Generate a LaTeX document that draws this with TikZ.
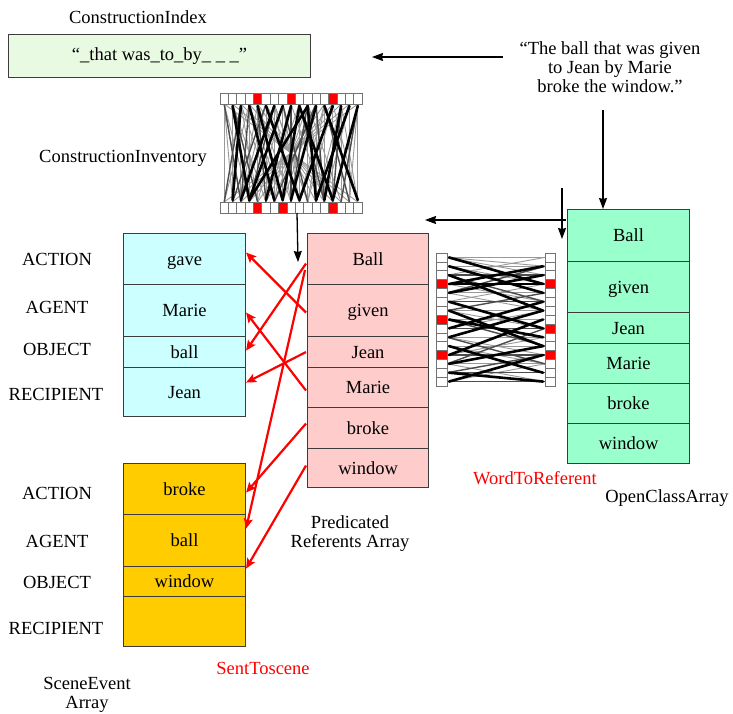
\documentclass[tikz,border=0pt]{standalone}
\usepackage{fontspec}
\setmainfont{Liberation Serif}
\usetikzlibrary{arrows.meta}

\definecolor{boxline}{RGB}{60,60,60}
\definecolor{idxfill}{RGB}{232,250,226}
\definecolor{cyanfill}{RGB}{204,255,255}
\definecolor{pinkfill}{RGB}{255,204,204}
\definecolor{orangefill}{RGB}{255,204,0}
\definecolor{greenfill}{RGB}{153,255,204}
\definecolor{linkred}{RGB}{255,0,0}

\tikzset{
  txt/.style={inner sep=0pt},
  cell/.style={draw=boxline, line width=1.1pt, inner sep=0pt, anchor=north west,
               minimum width=122pt, text height=14pt, text depth=2pt},
  redarrow/.style={draw=linkred, line width=2.2pt, -{Stealth[length=10pt,width=9pt,inset=2pt]}},
  blackarrow/.style={draw=black, line width=1.3pt, -{Stealth[length=11pt,width=8pt,inset=1pt]}},
  barcell/.style={draw=black!55, line width=0.6pt, fill=white},
  redcell/.style={draw=black!55, line width=0.6pt, fill=linkred},
  meshthin/.style={draw=black!40, line width=0.9pt},
  meshmid/.style={draw=black!70, line width=1.4pt},
  meshthick/.style={draw=black, line width=2.6pt, line cap=round}
}

\begin{document}
\begin{tikzpicture}[x=1pt, y=-1pt, font=\fontsize{18.5}{19}\selectfont]
\useasboundingbox (0,0) rectangle (733,714);

% ---------- construction index ----------
\node[txt] (cidxlabel) at (138,17) {ConstructionIndex};
\node[draw=boxline, line width=1.1pt, fill=idxfill, minimum width=302pt, minimum height=43pt, anchor=north west] (cidx) at (8,34) {“\_that was\_to\_by\_ \_ \_”};

% ---------- input sentence ----------
\node[txt, align=center] (sent) at (610,67) {“The ball that was given\\ to Jean by Marie\\ broke the window.”};

% ---------- construction inventory network ----------
\node[txt] (cinvlabel) at (123,158) {ConstructionInventory};
% thin weights
\foreach \i in {0,...,16}{
  \draw[meshthin] ({224.2+8.35*\i},104) -- ({224.2+8.35*\i},202);
  \draw[meshthin] ({224.2+8.35*\i},104) -- ({224.2+8.35*(16-\i)},202);
}
\foreach \a/\b in {0/3,1/5,2/6,3/0,5/2,6/10,7/4,8/12,9/5,10/14,11/7,12/9,13/16,14/11,15/12,16/13,4/8,3/7,13/10,
                   0/2,2/4,4/2,6/8,8/6,10/12,12/10,14/16,16/14,1/1,15/15,0/1,16/15}
  \draw[meshthin] ({224.2+8.35*\a},104) -- ({224.2+8.35*\b},202);
% medium weights
\foreach \a/\b in {1/4,3/6,5/1,7/10,9/12,11/6,13/9,15/11,6/3,12/15,2/0,0/2,4/5,8/8,10/8,14/13,16/14,3/2,11/12}
  \draw[meshmid] ({224.2+8.35*\a},104) -- ({224.2+8.35*\b},202);
% strong weights
\foreach \a/\b in {2/1,4/7,5/9,7/3,8/5,9/7,9/13,10/3,11/8,13/9,14/12,16/13,6/2,12/16,1/3,15/11,3/6,10/11}
  \draw[meshthick] ({224.2+8.35*\a},106) -- ({224.2+8.35*\b},200);
% input and output layers
\foreach \i in {0,...,16}{
  \draw[barcell] ({220+8.35*\i},93) rectangle +(8.35,11);
  \draw[barcell] ({220+8.35*\i},202) rectangle +(8.35,11);
}
\foreach \i in {4,8,13}
  \draw[redcell] ({220+8.35*\i},93) rectangle +(8.35,11);
\foreach \i in {4,7,13}
  \draw[redcell] ({220+8.35*\i},202) rectangle +(8.35,11);
\coordinate (cinvout) at (297,213);

% ---------- word-to-referent network ----------
\foreach \j in {0,...,14}{
  \draw[meshthin] (447,{257.4+8.87*\j}) -- (545,{257.4+8.87*\j});
}
\foreach \a/\b in {0/2,2/0,3/5,5/3,6/8,8/6,9/11,11/9,12/14,14/12,1/3,4/6,7/9,10/12,0/1,13/14}
  \draw[meshthin] (447,{257.4+8.87*\a}) -- (545,{257.4+8.87*\b});
\foreach \a/\b in {0/3,4/1,2/5,6/4,7/10,12/8,13/11,9/12,2/2,5/5,8/8,11/11,14/14,13/13}
  \draw[meshmid] (447,{257.4+8.87*\a}) -- (545,{257.4+8.87*\b});
\foreach \a/\b in {1/4,3/1,5/8,8/5,6/10,11/7,10/13,14/11,3/3,0/3,4/2,7/9,9/6,12/10,13/14,2/6}
  \draw[meshthick] (449,{257.4+8.87*\a}) -- (543,{257.4+8.87*\b});
\foreach \j in {0,...,14}{
  \draw[barcell] (436,{253+8.87*\j}) rectangle +(11,8.87);
  \draw[barcell] (545,{253+8.87*\j}) rectangle +(10,8.87);
}
\foreach \j in {3,7,11}
  \draw[redcell] (436,{253+8.87*\j}) rectangle +(11,8.87);
\foreach \j in {3,8,11}
  \draw[redcell] (545,{253+8.87*\j}) rectangle +(10,8.87);

% ---------- scene event array: given event ----------
\node[cell, fill=cyanfill, minimum height=51pt] (cA) at (123,233) {gave};
\node[cell, fill=cyanfill, minimum height=52pt] (cB) at (123,284) {Marie};
\node[cell, fill=cyanfill, minimum height=31pt] (cC) at (123,336) {ball};
\node[cell, fill=cyanfill, minimum height=49pt] (cD) at (123,367) {Jean};

\node[txt] (lA1) at (57,259) {ACTION};
\node[txt] (lB1) at (57,307) {AGENT};
\node[txt] (lC1) at (57,349) {OBJECT};
\node[txt] (lD1) at (56,394) {RECIPIENT};

% ---------- scene event array: broke event ----------
\node[cell, fill=orangefill, minimum height=51pt] (oA) at (123,463) {broke};
\node[cell, fill=orangefill, minimum height=52pt] (oB) at (123,514) {ball};
\node[cell, fill=orangefill, minimum height=30pt] (oC) at (123,566) {window};
\node[cell, fill=orangefill, minimum height=50pt] (oD) at (123,596) {};

\node[txt] (lA2) at (57,493) {ACTION};
\node[txt] (lB2) at (57,541) {AGENT};
\node[txt] (lC2) at (57,582) {OBJECT};
\node[txt] (lD2) at (56,628) {RECIPIENT};

\node[txt, align=center] (selabel) at (87,695) {SceneEvent\\Array};
\node[txt, text=linkred] (stslabel) at (263,668) {SentToscene};

% ---------- predicated referents array ----------
\node[cell, fill=pinkfill, minimum width=121pt, minimum height=51pt] (pA) at (307,233) {Ball};
\node[cell, fill=pinkfill, minimum width=121pt, minimum height=52pt] (pB) at (307,284) {given};
\node[cell, fill=pinkfill, minimum width=121pt, minimum height=31pt] (pC) at (307,336) {Jean};
\node[cell, fill=pinkfill, minimum width=121pt, minimum height=40pt] (pD) at (307,367) {Marie};
\node[cell, fill=pinkfill, minimum width=121pt, minimum height=41pt] (pE) at (307,407) {broke};
\node[cell, fill=pinkfill, minimum width=121pt, minimum height=39pt] (pF) at (307,448) {window};

\node[txt, align=center] (prlabel) at (350,534) {Predicated\\Referents Array};

% ---------- open class array ----------
\node[cell, fill=greenfill, minimum height=52pt] (gA) at (567,209) {Ball};
\node[cell, fill=greenfill, minimum height=51pt] (gB) at (567,261) {given};
\node[cell, fill=greenfill, minimum height=31pt] (gC) at (567,312) {Jean};
\node[cell, fill=greenfill, minimum height=40pt] (gD) at (567,343) {Marie};
\node[cell, fill=greenfill, minimum height=40pt] (gE) at (567,383) {broke};
\node[cell, fill=greenfill, minimum height=40pt] (gF) at (567,423) {window};

\node[txt, text=linkred] (w2rlabel) at (535,478) {WordToReferent};
\node[txt] (oclabel) at (667,498) {OpenClassArray};

% ---------- black data-flow arrows ----------
\coordinate (sentleft) at (503,57);
\coordinate (cidxin) at (372,57);
\draw[blackarrow] (sentleft) -- (cidxin);

\coordinate (sentdown) at (603,110);
\draw[blackarrow] (sentdown) -- ([xshift=36pt]gA.north west);

\coordinate (gaout) at (566,220);
\coordinate (prin) at (425,220);
\draw[blackarrow] (gaout) -- (prin);

\coordinate (w2rtop) at (562,188);
\draw[blackarrow] (w2rtop) -- ([xshift=-5pt,yshift=-30pt]gA.north west);

\draw[blackarrow] (cinvout) -- ([xshift=-9pt,yshift=-29pt]pA.north west);

% ---------- red SentToscene mappings ----------
\draw[redarrow] ([xshift=-1pt,yshift=-2pt]pB.west) -- ([yshift=6.5pt]cA.east);
\draw[redarrow] ([xshift=-1pt,yshift=-4.5pt]pA.west) -- ([yshift=1.5pt]cC.east);
\draw[redarrow] ([xshift=-2pt,yshift=-11pt]pA.west) -- ([yshift=12pt]oB.east);
\draw[redarrow] ([xshift=-1pt,yshift=-3pt]pD.west) -- ([yshift=-2pt]cB.east);
\draw[redarrow] ([xshift=-1pt]pC.west) -- ([yshift=9.5pt]cD.east);
\draw[redarrow] ([xshift=-1pt,yshift=4.5pt]pE.west) -- ([yshift=-3.5pt]oA.east);
\draw[redarrow] ([xshift=-1pt,yshift=2.5pt]pF.west) -- ([yshift=13pt]oC.east);

\end{tikzpicture}
\end{document}
